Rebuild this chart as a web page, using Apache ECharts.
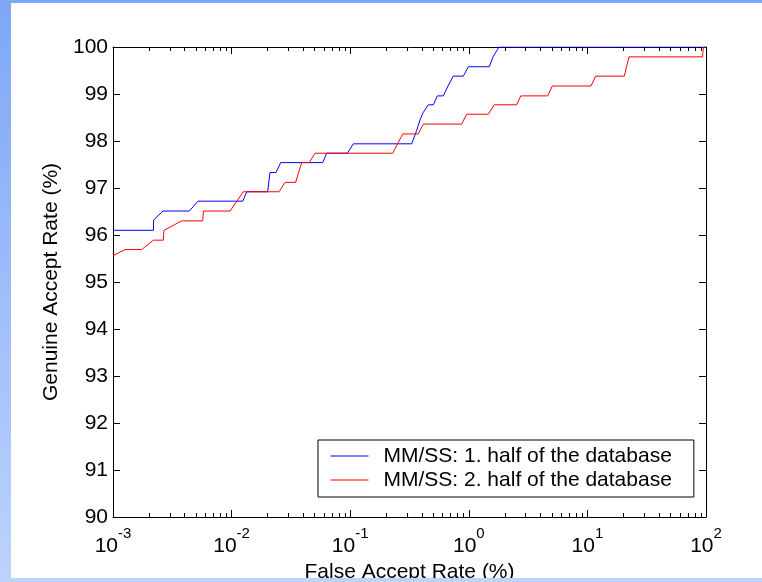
<!DOCTYPE html>
<html>
<head>
<meta charset="utf-8">
<script src="https://cdn.jsdelivr.net/npm/echarts@6/dist/echarts.min.js"></script>
<style>
  html, body { margin: 0; padding: 0; }
  body { width: 762px; height: 582px; overflow: hidden; position: relative;
         background: linear-gradient(to bottom, #7ea7f7 0%, #a4c1fa 60%, #bcd3fb 100%); }
  #chart { position: absolute; left: 11px; top: 3px; width: 751px; height: 575px; background: #ffffff; }
</style>
</head>
<body>
<div id="chart"></div>
<script>
// ---- data (False Accept Rate in %, Genuine Accept Rate in %) ----
const seriesNames = ['MM/SS: 1. half of the database', 'MM/SS: 2. half of the database'];

const blueFAR = [0.001, 0.00219, 0.0022, 0.00264, 0.0044, 0.00521, 0.01242, 0.01341, 0.02014, 0.02108,
  0.02368, 0.02594, 0.05866, 0.06335, 0.09459, 0.1063, 0.3302, 0.364, 0.3882, 0.4113,
  0.4558, 0.5023, 0.5426, 0.6095, 0.6678, 0.7399, 0.8993, 0.9909, 1.489, 1.6, 1.798, 100];
const blueGAR = [96.10, 96.10, 96.32, 96.51, 96.51, 96.72, 96.72, 96.92, 96.92, 97.33,
  97.33, 97.54, 97.54, 97.74, 97.74, 97.94, 97.94, 98.23, 98.45, 98.60,
  98.77, 98.77, 98.96, 98.96, 99.17, 99.38, 99.38, 99.58, 99.58, 99.79, 100, 100];

const redFAR = [0.001, 0.001262, 0.001746, 0.00219, 0.002655, 0.00269, 0.003795, 0.005702, 0.00579, 0.009705,
  0.01256, 0.02512, 0.02821, 0.03467, 0.03895, 0.04515, 0.05045, 0.2281, 0.2771, 0.3749,
  0.413, 0.8703, 0.9594, 1.459, 1.64, 2.534, 2.74, 4.626, 5.058, 10.72,
  11.74, 20.47, 22.43, 93.5, 95, 100];
const redGAR = [95.56, 95.69, 95.69, 95.89, 95.89, 96.10, 96.30, 96.30, 96.51, 96.51,
  96.92, 96.92, 97.12, 97.12, 97.54, 97.54, 97.74, 97.74, 98.15, 98.15,
  98.36, 98.36, 98.57, 98.57, 98.77, 98.77, 98.96, 98.96, 99.17, 99.17,
  99.38, 99.38, 99.79, 99.79, 100, 100];

const xMin = 0.001, xMax = 100;
const yMin = 90, yMax = 100, yStep = 1;
const minorTickValues = [];
[0.001, 0.01, 0.1, 1, 10].forEach(function (d) {
  for (let k = 2; k <= 9; k++) minorTickValues.push(+(d * k).toPrecision(3));
});

const FONT = 'Liberation Sans';
const FS = 21;
const chart = echarts.init(document.getElementById('chart'), null, { renderer: 'canvas' });

function zip(a, b) { return a.map(function (v, i) { return [v, b[i]]; }); }

const axisLineStyle = { lineStyle: { color: '#000', width: 1 } };
const majorTick = { show: true, inside: true, length: 7, lineStyle: { color: '#000', width: 1 } };

const option = {
  animation: false,
  textStyle: { fontFamily: FONT },
  grid: { left: 102, right: 56, top: 44, bottom: 61, containLabel: false, outerBoundsMode: 'none' },
  legend: {
    data: seriesNames,
    orient: 'vertical',
    left: 307, top: 437,
    padding: [4, 22, 5, 12],
    itemGap: 0,
    itemWidth: 38,
    itemHeight: 14,
    borderColor: '#000', borderWidth: 1,
    backgroundColor: '#fff',
    itemStyle: { opacity: 0 },
    lineStyle: { width: 1 },
    textStyle: { fontFamily: FONT, fontSize: FS, color: '#000', padding: [0, 0, 0, 10], lineHeight: 24 }
  },
  xAxis: [{
    type: 'log', logBase: 10, min: xMin, max: xMax, position: 'bottom',
    name: 'False Accept Rate (%)', nameLocation: 'middle', nameGap: 43,
    nameTextStyle: { fontFamily: FONT, fontSize: FS, color: '#000' },
    axisLine: axisLineStyle, axisTick: majorTick, splitLine: { show: false },
    axisLabel: {
      margin: 9, color: '#000',
      formatter: function (v) {
        return '{b|10}{s|' + Math.round(Math.log10(v)) + '}';
      },
      rich: {
        b: { fontFamily: FONT, fontSize: FS, color: '#000', lineHeight: 40, verticalAlign: 'middle' },
        s: { fontFamily: FONT, fontSize: 15, color: '#000', lineHeight: 15, verticalAlign: 'top' }
      }
    }
  }, {
    type: 'log', logBase: 10, min: xMin, max: xMax, position: 'top',
    axisLine: axisLineStyle, axisTick: majorTick, axisLabel: { show: false }, splitLine: { show: false }
  }],
  yAxis: [{
    type: 'value', min: yMin, max: yMax, interval: yStep, position: 'left',
    name: 'Genuine Accept Rate (%)', nameLocation: 'middle', nameGap: 50,
    nameTextStyle: { fontFamily: FONT, fontSize: FS, color: '#000' },
    axisLine: axisLineStyle, axisTick: majorTick, splitLine: { show: false },
    axisLabel: { margin: 5, color: '#000', fontFamily: FONT, fontSize: FS }
  }, {
    type: 'value', min: yMin, max: yMax, interval: yStep, position: 'right',
    axisLine: axisLineStyle, axisTick: majorTick, axisLabel: { show: false }, splitLine: { show: false }
  }],
  series: [{
    name: seriesNames[0], type: 'line', data: zip(blueFAR, blueGAR),
    symbol: 'none', lineStyle: { color: '#0000ff', width: 1 }, itemStyle: { color: '#0000ff' }, z: 3
  }, {
    name: seriesNames[1], type: 'line', data: zip(redFAR, redGAR),
    symbol: 'none', lineStyle: { color: '#ff0000', width: 1 }, itemStyle: { color: '#ff0000' }, z: 4
  }, {
    type: 'custom', silent: true, clip: false, z: 5,
    data: minorTickValues.map(function (v) { return [v, yMin]; }),
    encode: { x: 0, y: 1 },
    renderItem: function (params, api) {
      const v = api.value(0);
      const b = api.coord([v, yMin]);
      const t = api.coord([v, yMax]);
      const x = Math.round(b[0]) + 0.5;
      const st = { stroke: '#000', lineWidth: 1 };
      return {
        type: 'group', children: [
          { type: 'line', shape: { x1: x, y1: Math.round(b[1]), x2: x, y2: Math.round(b[1]) - 4 }, style: st },
          { type: 'line', shape: { x1: x, y1: Math.round(t[1]), x2: x, y2: Math.round(t[1]) + 4 }, style: st }
        ]
      };
    }
  }]
};
chart.setOption(option);
</script>
</body>
</html>
